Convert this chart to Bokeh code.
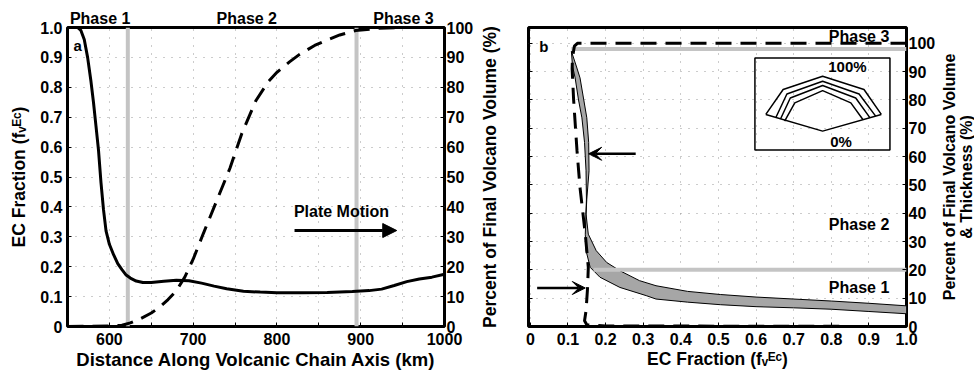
from bokeh.plotting import figure
from bokeh.models import (Range1d, LinearAxis, FixedTicker, CustomJSTickFormatter,
                          Label, Arrow, NormalHead, VeeHead)
from bokeh.layouts import row
from bokeh.embed import file_html
from bokeh.resources import INLINE

FONT = "Liberation Sans"

# ---------------- panel a data ----------------
dist_ec = [550, 562, 566, 570, 574, 578, 581, 584, 587, 590, 593, 596, 600, 605, 610, 615,
           620, 625, 632, 640, 650, 665, 680, 695, 710, 725, 740, 760, 780, 800, 830, 860,
           890, 910, 925, 940, 955, 970, 985, 1000]
ec_frac = [1.0, 1.0, 0.99, 0.96, 0.90, 0.82, 0.75, 0.67, 0.59, 0.48, 0.39, 0.32, 0.275, 0.24,
           0.21, 0.19, 0.172, 0.162, 0.152, 0.147, 0.147, 0.151, 0.155, 0.153, 0.145, 0.135,
           0.126, 0.118, 0.115, 0.113, 0.113, 0.114, 0.117, 0.12, 0.125, 0.137, 0.15, 0.159,
           0.165, 0.175]
dist_vol = [550, 600, 615, 625, 637, 650, 660, 670, 680, 690, 700, 712, 728, 744, 758, 775,
            790, 800, 815, 827, 845, 858, 875, 894, 920, 950, 1000]
vol_pct = [0, 0.2, 0.4, 1.2, 2.6, 4.5, 6.5, 9.0, 12.0, 16.5, 22.5, 31, 42, 53, 64.5, 75.6,
           82, 85, 88.5, 91, 94, 95.6, 97.5, 99, 99.7, 100, 100]
phase_bounds_km = [622, 895]
phase_names = ["Phase 1", "Phase 2", "Phase 3"]
phase_label_km = [589, 764, 951]
x_ticks_a = [550, 600, 650, 700, 750, 800, 850, 900, 950, 1000]
y_ticks_frac = [0, 0.1, 0.2, 0.3, 0.4, 0.5, 0.6, 0.7, 0.8, 0.9, 1.0]
y_ticks_pct = [0, 10, 20, 30, 40, 50, 60, 70, 80, 90, 100]

# ---------------- panel b data ----------------
dash_ec = [1.0, 0.5, 0.2, 0.125, 0.117, 0.112, 0.111, 0.115, 0.124, 0.132, 0.146, 0.154,
           0.152, 0.148, 0.144, 0.15, 0.2, 1.0]
dash_pct = [100, 100, 100, 100, 99, 95, 91, 80, 62, 49, 32.6, 20.9, 13.6, 5.6, 2.0, 0.6, 0.2, 0.0]
band_up_ec = [0.109, 0.122, 0.132, 0.142, 0.150, 0.155, 0.156, 0.150, 0.148, 0.154, 0.175,
              0.203, 0.238, 0.29, 0.334, 0.418, 0.505, 0.6, 0.7, 0.8, 0.9, 1.0]
band_up_pct = [97.2, 92, 87.8, 80, 73.7, 65, 55, 45, 39.7, 32.6, 26.8, 22.6, 19.7, 16.2, 14.4,
               12.4, 11.3, 10.4, 9.7, 9.0, 8.2, 7.3]
band_lo_ec = [0.109, 0.112, 0.119, 0.128, 0.137, 0.144, 0.148, 0.149, 0.146, 0.148, 0.159,
              0.185, 0.238, 0.308, 0.334, 0.418, 0.505, 0.6, 0.7, 0.8, 0.9, 1.0]
band_lo_pct = [97.2, 92, 87.8, 80, 73.7, 65, 55, 45, 32.6, 26.8, 20.9, 17.4, 13.8, 10.9, 9.7,
               8.6, 7.7, 7.0, 6.6, 6.1, 5.3, 4.5]
phase_bounds_pct = [98, 20]
phase_bound_start_ec = [0.109, 0.168]
phase_label_pct = [13.8, 36.2, 102.5]
x_ticks_b = [0, 0.1, 0.2, 0.3, 0.4, 0.5, 0.6, 0.7, 0.8, 0.9, 1.0]
# inset sketch: nested layer outlines (ec, pct coordinates)
inset_box_ec = [0.597, 0.956]
inset_box_pct = [62.3, 94.8]
layer_ec = [[0.626, 0.672, 0.777, 0.887, 0.933],
            [0.653, 0.682, 0.777, 0.874, 0.918],
            [0.665, 0.691, 0.777, 0.865, 0.903],
            [0.676, 0.703, 0.777, 0.852, 0.884]]
layer_pct = [[74.9, 83.7, 88.4, 83.7, 74.9],
             [73.9, 82.1, 86.6, 82.1, 74.3],
             [73.3, 80.7, 85.1, 80.7, 73.7],
             [72.5, 79.0, 83.3, 79.0, 73.1]]
base_ec = [0.626, 0.777, 0.933]
base_pct = [74.9, 69.0, 74.9]

label_a_right = "Percent of Final Volcano Volume (%)"
label_b_right = "Percent of Final Volcano Volume\n& Thickness (%)"

frac_fmt = CustomJSTickFormatter(code="return tick == 0 ? '0' : tick.toFixed(1);")
hund_fmt = CustomJSTickFormatter(code="return (Math.round(tick) % 100 == 0) ? tick.toFixed(0) : '';")
blank_fmt = CustomJSTickFormatter(code="return '';")
phase_map = ", ".join(f"{k}: '{n}'" for k, n in zip(phase_label_km, phase_names))
phase_fmt = CustomJSTickFormatter(code="const m = {" + phase_map + "}; return m[Math.round(tick)] || '';")


def style_axis(ax, size="16px", label_size="17.5px"):
    ax.axis_line_color = None
    ax.major_tick_in = 4
    ax.major_tick_out = 0
    ax.minor_tick_line_color = None
    ax.major_tick_line_color = "black"
    ax.major_tick_line_width = 1
    ax.major_label_text_font = FONT
    ax.major_label_text_font_style = "bold"
    ax.major_label_text_font_size = size
    ax.major_label_text_color = "black"
    ax.axis_label_text_font = FONT
    ax.axis_label_text_font_style = "bold"
    ax.axis_label_text_font_size = label_size
    ax.axis_label_text_color = "black"
    ax.major_label_standoff = 5
    ax.axis_label_standoff = 4


def style_grid(p):
    for g in (p.xgrid, p.ygrid):
        g.grid_line_color = "#999999"
        g.grid_line_dash = "1 7"
        g.grid_line_width = 1


def lab(p, x, y, text, size="15px"):
    p.add_layout(Label(x=x, y=y, text=text, text_align="center", text_baseline="middle",
                       text_font=FONT, text_font_style="bold", text_font_size=size,
                       text_color="black"))


# ================= panel a =================
pa = figure(width=476, height=373, output_backend="svg", toolbar_location=None,
            x_range=Range1d(550, 1000), y_range=Range1d(0, 1.0),
            min_border_left=67, min_border_right=30, min_border_top=27, min_border_bottom=47)
pa.extra_y_ranges = {"pct": Range1d(0, 100)}
pa.outline_line_color = "black"
pa.outline_line_width = 3
pa.background_fill_color = "white"
pa.border_fill_color = "white"

pa.xaxis.ticker = FixedTicker(ticks=x_ticks_a)
pa.xaxis.formatter = hund_fmt
pa.yaxis.ticker = FixedTicker(ticks=y_ticks_frac)
pa.yaxis.formatter = frac_fmt
pa.xaxis.axis_label = "Distance Along Volcanic Chain Axis (km)"
pa.yaxis.axis_label = "EC Fraction (fᵥᴱᶜ)"
style_axis(pa.xaxis[0], label_size="18.5px")
style_axis(pa.yaxis[0])
pa.xaxis.major_label_standoff = 6
pa.xaxis.axis_label_standoff = 1
pa.yaxis.axis_label_standoff = 8
pa.xgrid.ticker = FixedTicker(ticks=x_ticks_a)
pa.ygrid.ticker = FixedTicker(ticks=y_ticks_frac)
style_grid(pa)

ra = LinearAxis(y_range_name="pct", ticker=FixedTicker(ticks=y_ticks_pct))
style_axis(ra)
ra.major_label_standoff = 2
pa.add_layout(ra, "right")

ta = LinearAxis(ticker=FixedTicker(ticks=phase_label_km), formatter=phase_fmt)
style_axis(ta, size="16px")
ta.major_tick_line_color = None
ta.major_label_standoff = 1
pa.add_layout(ta, "above")

for xb in phase_bounds_km:
    pa.line([xb, xb], [0, 1.0], line_color="#c4c4c4", line_width=4)

pa.line(dist_vol, vol_pct, y_range_name="pct", line_color="black", line_width=3,
        line_dash="16 9")
pa.line(dist_ec, ec_frac, line_color="black", line_width=3)

lab(pa, 562, 0.94, "a")
lab(pa, 877, 0.385, "Plate Motion", size="16px")
pa.add_layout(Arrow(end=NormalHead(size=14, fill_color="black", line_color="black"),
                    x_start=821, y_start=0.321, x_end=943, y_end=0.321,
                    line_width=3, line_color="black"))

# ================= panel b =================
pb = figure(width=462, height=373, output_backend="svg", toolbar_location=None,
            x_range=Range1d(-0.005, 1.0), y_range=Range1d(0, 105.6),
            min_border_left=50, min_border_right=30, min_border_top=26, min_border_bottom=47)
pb.outline_line_color = "black"
pb.outline_line_width = 3
pb.background_fill_color = "white"
pb.border_fill_color = "white"
pb.xaxis.ticker = FixedTicker(ticks=x_ticks_b)
pb.xaxis.formatter = frac_fmt
pb.xaxis.axis_label = "EC Fraction (fᵥᴱᶜ)"
style_axis(pb.xaxis[0])
pb.xaxis.major_label_standoff = 6
pb.xaxis.axis_label_standoff = 1

# left side of panel b carries the right-hand title of panel a
pb.yaxis.ticker = FixedTicker(ticks=y_ticks_pct)
pb.yaxis.formatter = blank_fmt
pb.yaxis.axis_label = label_a_right
style_axis(pb.yaxis[0])
pb.yaxis.major_label_standoff = 0
pb.yaxis.axis_label_standoff = 29

rb = LinearAxis(ticker=FixedTicker(ticks=y_ticks_pct))
style_axis(rb)
rb.major_label_standoff = 2
pb.add_layout(rb, "right")

pb.xgrid.ticker = FixedTicker(ticks=x_ticks_b)
pb.ygrid.ticker = FixedTicker(ticks=y_ticks_pct)
style_grid(pb)

band_x = band_up_ec + band_lo_ec[::-1]
band_y = band_up_pct + band_lo_pct[::-1]
pb.patch(band_x, band_y, fill_color="#a6a6a6", line_color="black", line_width=1)

for yb, xs in zip(phase_bounds_pct, phase_bound_start_ec):
    pb.line([xs, 1.0], [yb, yb], line_color="#c4c4c4", line_width=4)

pb.line(dash_ec, dash_pct, line_color="black", line_width=3, line_dash="16 9")

# inset
pb.quad(left=inset_box_ec[0], right=inset_box_ec[1], bottom=inset_box_pct[0],
        top=inset_box_pct[1], fill_color=None, line_color="black", line_width=1.5)
pb.multi_line(layer_ec, layer_pct, line_color="black", line_width=1.5)
pb.line(base_ec, base_pct, line_color="black", line_width=1.5)
lab(pb, 0.843, 91.8, "100%")
lab(pb, 0.826, 65.5, "0%")

for name, yp in zip(phase_names, phase_label_pct):
    lab(pb, 0.874, yp, name, size="16px")
lab(pb, 0.036, 99, "b")
pb.add_layout(Arrow(end=VeeHead(size=13, fill_color="black", line_color="black"),
                    x_start=0.28, y_start=61, x_end=0.155, y_end=61,
                    line_width=2.5, line_color="black"))
pb.add_layout(Arrow(end=VeeHead(size=13, fill_color="black", line_color="black"),
                    x_start=0.018, y_start=13.6, x_end=0.146, y_end=13.6,
                    line_width=2.5, line_color="black"))

# ================= right-hand title strip for panel b =================
pc = figure(width=36, height=373, output_backend="svg", toolbar_location=None,
            x_range=Range1d(0, 1), y_range=Range1d(0, 105.6), x_axis_location=None,
            min_border_left=33, min_border_right=0, min_border_top=26, min_border_bottom=47)
pc.outline_line_color = None
pc.xgrid.visible = False
pc.ygrid.visible = False
pc.background_fill_color = "white"
pc.border_fill_color = "white"
pc.yaxis.ticker = FixedTicker(ticks=[])
pc.yaxis.formatter = blank_fmt
pc.yaxis.axis_label = label_b_right
style_axis(pc.yaxis[0], label_size="16px")
pc.yaxis.major_tick_line_color = None
pc.yaxis.major_label_standoff = 0
pc.yaxis.axis_label_standoff = 0
pc.yaxis.axis_label_text_line_height = 0.95

layout = row(pa, pb, pc)
open("out.html", "w").write(file_html(layout, INLINE))
